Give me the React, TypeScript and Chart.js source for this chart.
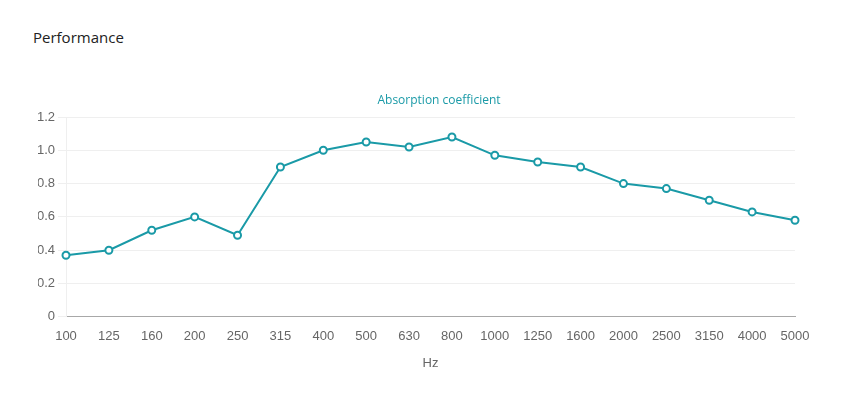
import React, { useEffect, useRef } from 'react';
import { Chart, registerables } from 'chart.js';

Chart.register(...registerables);

// Third-octave band centre frequencies (Hz)
const frequencies: string[] = [
  '100', '125', '160', '200', '250', '315', '400', '500', '630',
  '800', '1000', '1250', '1600', '2000', '2500', '3150', '4000', '5000',
];

// Absorption coefficient per band
const absorption: number[] = [
  0.37, 0.40, 0.52, 0.60, 0.49, 0.90, 1.00, 1.05, 1.02,
  1.08, 0.97, 0.93, 0.90, 0.80, 0.77, 0.70, 0.63, 0.58,
];

const seriesLabel = 'Absorption coefficient';
const yTicks: number[] = [0, 0.2, 0.4, 0.6, 0.8, 1.0, 1.2];

const TEAL = '#1a9aa7';
const TICK_FONT = "'Liberation Sans', Arial, Helvetica, sans-serif";

const App: React.FC = () => {
  const canvasRef = useRef<HTMLCanvasElement>(null);
  const chartRef = useRef<Chart<'line'> | null>(null);

  useEffect(() => {
    if (!canvasRef.current) return;

    chartRef.current = new Chart(canvasRef.current, {
      type: 'line',
      data: {
        labels: frequencies,
        datasets: [
          {
            label: seriesLabel,
            data: absorption,
            borderColor: TEAL,
            borderWidth: 2,
            backgroundColor: '#ffffff',
            pointBackgroundColor: '#ffffff',
            pointBorderColor: TEAL,
            pointBorderWidth: 2,
            pointRadius: 3.5,
            tension: 0,
            fill: false,
          },
        ],
      },
      options: {
        responsive: true,
        maintainAspectRatio: false,
        animation: false,
        layout: {
          padding: { left: 38, right: 59, top: 85, bottom: 34 },
        },
        plugins: {
          tooltip: { enabled: false },
          legend: {
            position: 'top',
            labels: {
              color: TEAL,
              boxWidth: 39,
              boxHeight: 12,
              padding: 10,
              font: { family: "'Open Sans', sans-serif", size: 12 },
              // legend shows only the text, the swatch is invisible
              generateLabels: (chart) => [
                {
                  text: seriesLabel,
                  fillStyle: 'rgba(0,0,0,0)',
                  strokeStyle: 'rgba(0,0,0,0)',
                  lineWidth: 0,
                  fontColor: TEAL,
                  hidden: !chart.isDatasetVisible(0),
                  datasetIndex: 0,
                },
              ],
            },
          },
        },
        scales: {
          x: {
            offset: false,
            grid: { display: false },
            border: { display: true, color: '#a8a8a8', width: 1 },
            ticks: {
              color: '#666',
              padding: 4,
              maxRotation: 0,
              autoSkip: false,
              font: { family: TICK_FONT, size: 13 },
            },
            title: {
              display: true,
              text: 'Hz',
              color: '#666',
              padding: { top: 7, bottom: 4 },
              font: { family: TICK_FONT, size: 13 },
            },
          },
          y: {
            min: 0,
            max: 1.2,
            afterFit: (scale) => {
              scale.width = 28;
            },
            afterBuildTicks: (scale) => {
              scale.ticks = yTicks.map((v) => ({ value: v }));
            },
            grid: {
              color: '#efefef',
              tickColor: '#efefef',
              tickLength: 8,
              drawTicks: true,
            },
            border: { display: true, color: '#efefef' },
            ticks: {
              color: '#666',
              padding: 3,
              font: { family: TICK_FONT, size: 13 },
              callback: (value) => {
                const v = Number(value);
                return v === 0 ? '0' : v.toFixed(1);
              },
            },
          },
        },
      },
    });

    return () => {
      if (chartRef.current) {
        chartRef.current.destroy();
        chartRef.current = null;
      }
    };
  }, []);

  return (
    <div style={{ position: 'absolute', left: 0, top: 0, width: 854, height: 409, background: '#fff' }}>
      <div
        style={{
          position: 'absolute',
          left: 33,
          top: 27,
          fontFamily: "'Open Sans', 'Noto Sans', sans-serif",
          fontSize: 15,
          lineHeight: '20px',
          color: '#222',
        }}
      >
        Performance
      </div>
      <div style={{ position: 'absolute', left: 0, top: 0, width: 854, height: 409 }}>
        <canvas ref={canvasRef}></canvas>
      </div>
    </div>
  );
};

export default App;
